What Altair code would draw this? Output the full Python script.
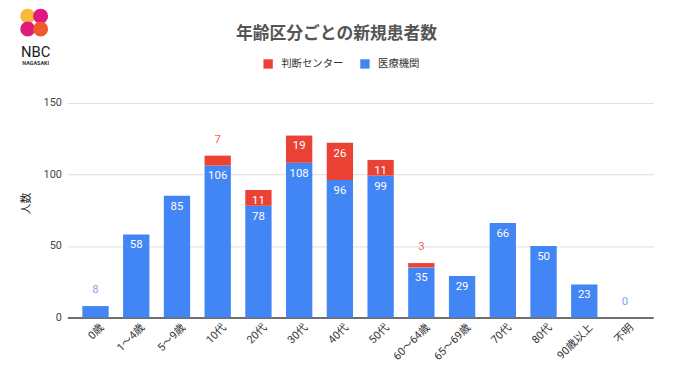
import altair as alt
import pandas as pd

categories = ["0歳", "1～4歳", "5～9歳", "10代", "20代", "30代", "40代", "50代",
              "60～64歳", "65～69歳", "70代", "80代", "90歳以上", "不明"]
medical = [8, 58, 85, 106, 78, 108, 96, 99, 35, 29, 66, 50, 23, 0]
center = [0, 0, 0, 7, 11, 19, 26, 11, 3, 0, 0, 0, 0, 0]
series_names = ["判断センター", "医療機関"]
series_colors = ["#EA4335", "#4285F4"]
y_ticks = [0, 50, 100, 150]

FONT = "Roboto, 'Noto Sans CJK JP', sans-serif"

rows = []
for c, m, r in zip(categories, medical, center):
    rows.append({"category": c, "series": "医療機関", "value": m, "order": 0})
    rows.append({"category": c, "series": "判断センター", "value": r, "order": 1})
df = pd.DataFrame(rows)

x_enc = alt.X("category:N", sort=categories,
              scale=alt.Scale(paddingInner=0.354, paddingOuter=0.37),
              axis=alt.Axis(title=None, labelAngle=-45, labelAlign="right",
                            labelBaseline="middle", labelFontSize=11,
                            labelColor="#333333", ticks=False, labelPadding=8,
                            labelOffset=7,
                            domainColor="#444444", domainWidth=1.5))

base = alt.Chart(df)

bars = base.mark_bar().encode(
    x=x_enc,
    y=alt.Y("value:Q", stack="zero",
            scale=alt.Scale(domain=[0, 150]),
            axis=alt.Axis(title="人数", values=y_ticks, domain=False, ticks=False,
                          labelFontSize=11, labelColor="#444444", labelPadding=6,
                          titleFontSize=11, titleFontWeight="normal",
                          titleColor="#222222", titlePadding=12,
                          gridColor="#dddddd")),
    color=alt.Color("series:N",
                    scale=alt.Scale(domain=series_names, range=series_colors),
                    legend=alt.Legend(orient="none", legendX=198, legendY=-30,
                                      direction="horizontal", title=None,
                                      symbolType="square", symbolSize=90,
                                      symbolStrokeWidth=0, labelFontSize=10.5,
                                      labelColor="#333333", columnPadding=16,
                                      labelOffset=8)),
    order=alt.Order("order:Q", sort="ascending"),
)

stacked = base.transform_stack(
    stack="value", groupby=["category"], as_=["v0", "v1"],
    sort=[alt.SortField("order", order="ascending")],
)

inside = stacked.transform_filter(alt.datum.value >= 10).mark_text(
    dy=11, fontSize=11.5, color="white", font=FONT
).encode(
    x=alt.X("category:N", sort=categories),
    y=alt.Y("v1:Q"),
    text=alt.Text("value:Q"),
)

outside = stacked.transform_filter(
    (alt.datum.value < 10) & ((alt.datum.value > 0) | (alt.datum.series == "医療機関"))
).mark_text(dy=-16, fontSize=11.5, font=FONT).encode(
    x=alt.X("category:N", sort=categories),
    y=alt.Y("v1:Q"),
    text=alt.Text("value:Q"),
    color=alt.condition(alt.datum.series == "医療機関",
                        alt.value("#7EA7EE"), alt.value("#E8695F")),
)

one = alt.Data(values=[{"k": 1}])
logo_tl = alt.Chart(one).mark_circle(size=230, opacity=1, color="#F6B93B").encode(
    x=alt.value(-40), y=alt.value(-73))
logo_tr = alt.Chart(one).mark_circle(size=230, opacity=1, color="#E2187F").encode(
    x=alt.value(-27), y=alt.value(-73))
logo_bl = alt.Chart(one).mark_circle(size=230, opacity=1, color="#E01A7C").encode(
    x=alt.value(-40), y=alt.value(-60))
logo_br = alt.Chart(one).mark_circle(size=230, opacity=1, color="#EE5A2C").encode(
    x=alt.value(-27), y=alt.value(-60))
logo_nbc = alt.Chart(one).mark_text(text="NBC", fontSize=15, font="Roboto",
                                    color="#222222").encode(
    x=alt.value(-32), y=alt.value(-37))
logo_sub = alt.Chart(one).mark_text(text="NAGASAKI", fontSize=5.5, font="Roboto",
                                    fontWeight="bold", color="#333333").encode(
    x=alt.value(-32), y=alt.value(-26))

chart = alt.layer(
    bars, inside, outside,
    logo_tl, logo_bl, logo_tr, logo_br, logo_nbc, logo_sub,
).properties(
    width=593, height=232,
    title=alt.TitleParams(text="年齢区分ごとの新規患者数", anchor="middle",
                          frame="group", dx=-24, offset=0, dy=35,
                          fontSize=17, fontWeight="bold", color="#555555",
                          font=FONT),
    autosize=alt.AutoSizeParams(type="none"),
    padding={"left": 60, "top": 79, "right": 19, "bottom": 63},
).configure(
    font=FONT,
).configure_view(
    stroke=None,
).configure_axis(
    labelFont=FONT, titleFont=FONT,
).configure_legend(
    labelFont=FONT,
)

chart.save("out.html", embed_options={"renderer": "svg", "actions": False})
